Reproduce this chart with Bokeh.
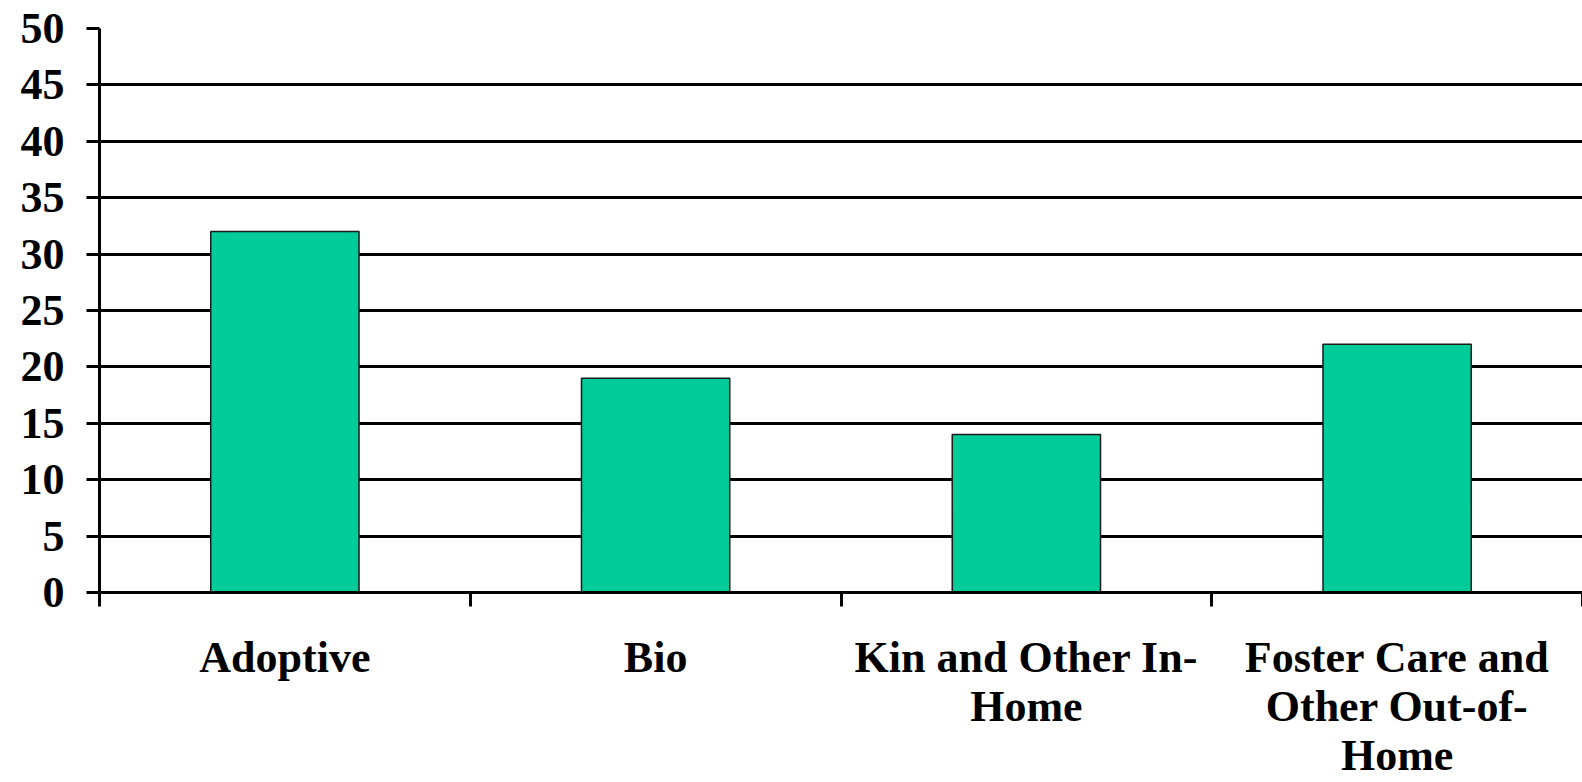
from bokeh.plotting import figure
from bokeh.models import FixedTicker, Range1d
from bokeh.embed import file_html
from bokeh.resources import INLINE

# Placement groups and their percentages
categories = ["Adoptive", "Bio", "Kin and Other In-Home", "Foster Care and Other Out-of-Home"]
tick_labels = ["Adoptive", "Bio", "Kin and Other In-\nHome", "Foster Care and\nOther Out-of-\nHome"]
values = [32, 19, 14, 22]
y_ticks = [0, 5, 10, 15, 20, 25, 30, 35, 40, 45, 50]

centers = [i + 0.5 for i in range(len(categories))]
bounds = list(range(len(categories) + 1))

p = figure(width=1582, height=782, output_backend="svg", toolbar_location=None,
           x_range=Range1d(0, len(categories)), y_range=Range1d(0, 50),
           min_border_left=99, min_border_right=0, min_border_top=28, min_border_bottom=188)
p.outline_line_color = None
p.background_fill_color = "white"
p.border_fill_color = "white"

p.vbar(x=centers, top=values, width=0.4, bottom=0,
       fill_color="#00CC99", line_color="#1a1a1a", line_width=1.5)

# y axis
p.yaxis.ticker = FixedTicker(ticks=y_ticks)
p.yaxis.axis_line_color = "black"
p.yaxis.axis_line_width = 3
p.yaxis.major_tick_line_color = "black"
p.yaxis.major_tick_line_width = 3
p.yaxis.major_tick_out = 13
p.yaxis.major_tick_in = 0
p.yaxis.minor_tick_line_color = None
p.yaxis.major_label_standoff = 22
p.yaxis.major_label_text_font = "Liberation Serif"
p.yaxis.major_label_text_font_style = "bold"
p.yaxis.major_label_text_font_size = "44px"
p.yaxis.major_label_text_color = "black"

# x axis: labels at centres, tick marks at category boundaries
p.xaxis.ticker = FixedTicker(ticks=centers, minor_ticks=bounds)
p.xaxis.major_label_overrides = {c: t for c, t in zip(centers, tick_labels)}
p.xaxis.axis_line_color = "black"
p.xaxis.axis_line_width = 3
p.xaxis.major_tick_line_color = None
p.xaxis.minor_tick_line_color = "black"
p.xaxis.minor_tick_line_width = 3
p.xaxis.minor_tick_out = 14
p.xaxis.minor_tick_in = 0
p.xaxis.major_tick_out = 14
p.xaxis.major_tick_in = 0
p.xaxis.major_label_standoff = 26
p.xaxis.major_label_text_font = "Liberation Serif"
p.xaxis.major_label_text_font_style = "bold"
p.xaxis.major_label_text_font_size = "44px"
p.xaxis.major_label_text_color = "black"
p.xaxis.major_label_text_line_height = 1.0

p.xgrid.grid_line_color = None
p.ygrid.ticker = FixedTicker(ticks=y_ticks)
p.ygrid.grid_line_color = "black"
p.ygrid.grid_line_width = 3
p.ygrid.grid_line_alpha = 1.0

open("out.html", "w").write(file_html(p, INLINE))
